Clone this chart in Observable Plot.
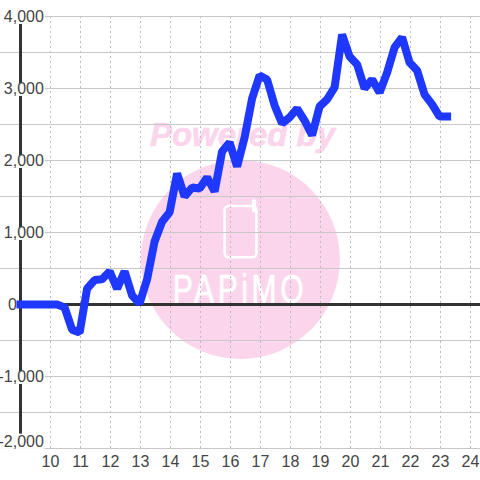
<!DOCTYPE html>
<html><head><meta charset="utf-8">
<style>
html,body{margin:0;padding:0;background:#fff}
svg{display:block}
</style>
<script src="https://cdn.jsdelivr.net/npm/d3@7"></script>
<script src="https://cdn.jsdelivr.net/npm/@observablehq/plot@0.6"></script>
</head><body><div id="c"></div>
<script>
const hours = [9,10.22,10.47,10.72,10.97,11.22,11.47,11.72,11.97,12.22,12.47,12.72,12.97,13.22,13.47,13.72,13.97,14.22,14.47,14.72,14.97,15.22,15.47,15.72,15.97,16.22,16.47,16.72,16.97,17.22,17.47,17.72,17.97,18.22,18.47,18.72,18.97,19.22,19.47,19.72,19.97,20.22,20.47,20.72,20.97,21.22,21.47,21.72,21.97,22.22,22.47,22.72,22.97,23.22];
const values = [0,0,-40,-350,-390,220,340,350,460,220,460,125,15,350,875,1150,1280,1820,1500,1625,1610,1765,1570,2125,2250,1915,2320,2860,3180,3125,2765,2515,2600,2720,2555,2350,2750,2850,3015,3750,3445,3335,3000,3125,2945,3220,3570,3710,3360,3250,2915,2780,2610,2610];
const xTicks = [10,11,12,13,14,15,16,17,18,19,20,21,22,23,24];
const yMajor = [4000,3000,2000,1000,0,-1000,-2000];
const yGrid = [4000,3500,3000,2500,2000,1500,1000,500,-500,-1000,-1500,-2000];
const series = hours.map((h,i)=>({h,v:values[i]}));
const fmt = t=>d3.format(",")(t).replace("\u2212","-");
const FONT = '"Liberation Sans", Arial, sans-serif';
const INK = "#444";
const labelled = yMajor.filter(t=>t!==0);
const px = 1/0.072; // y units per pixel
const chart = Plot.plot({
  width:480,height:480,margin:0,
  x:{domain:[8.3333,24.3333],range:[0,480],axis:null},
  y:{domain:[4222.22,-2444.44],range:[0,480],axis:null},
  style:{background:"#fff",overflow:"visible"},
  marks:[
    Plot.dot([0],{x:()=>16.33,y:()=>625,r:99.5,fill:"#fbd5ec",stroke:"none"}),
    Plot.text(["Powered by"],{x:()=>16.4,y:()=>2345,text:d=>d,fontSize:33,fontWeight:"bold",fontStyle:"italic",fontFamily:FONT,fill:"#fbd5ec",stroke:"#fbd5ec",strokeWidth:0.6,textAnchor:"middle"}),
    Plot.rect([0],{x1:()=>15.82,x2:()=>16.88,y1:()=>650,y2:()=>1360,rx:4,fill:"none",stroke:"#fff",strokeWidth:2.5}),
    Plot.ruleX([16.78],{y1:()=>1430,y2:()=>1300,stroke:"#fff",strokeWidth:4,strokeLinecap:"round"}),
    Plot.text(["PAPiMO"],{x:()=>16.33,y:()=>208,text:d=>d,fontSize:30,fontFamily:FONT,fill:"#fff",stroke:"#fff",strokeWidth:0.5,textAnchor:"middle"}),
    Plot.ruleX(xTicks,{y1:()=>4000,y2:()=>-2000,stroke:"#bbb",strokeWidth:1,strokeDasharray:"2,3"}),
    Plot.ruleY(yGrid,{stroke:"#c8c8c8",strokeWidth:1}),
    Plot.ruleY([0],{x1:()=>8.95,x2:()=>24.3333,stroke:"#333",strokeWidth:3}),
    Plot.ruleX([9],{y1:()=>4000,y2:()=>-2000,stroke:"#333",strokeWidth:3}),
    Plot.rect(labelled,{x1:()=>8.3333,x2:()=>9.82,y1:t=>t===-2000?-2012:t-8*px,y2:t=>t===-2000?-1800:t+5*px,fill:"#fff"}),
    Plot.line(series,{x:"h",y:"v",stroke:"#1f38ff",strokeWidth:8,strokeLinecap:"square",strokeLinejoin:"bevel",curve:"linear"}),
    Plot.text(yMajor.filter(t=>t!==0&&t!==-2000),{x:()=>9.78,y:t=>t,text:t=>fmt(t),textAnchor:"end",fontSize:16,fontFamily:FONT,fill:INK}),
    Plot.text([-2000],{x:()=>9.78,y:t=>t,text:t=>fmt(t),dy:-7,textAnchor:"end",fontSize:16,fontFamily:FONT,fill:INK}),
    Plot.text([0],{x:()=>8.88,y:t=>t,text:t=>fmt(t),textAnchor:"end",fontSize:16,fontFamily:FONT,fill:INK}),
    Plot.text(xTicks,{x:t=>t,y:()=>-2190,text:t=>String(t),textAnchor:"middle",fontSize:16,fontFamily:FONT,fill:INK})
  ]
});
document.getElementById("c").appendChild(chart);
for (const t of chart.querySelectorAll("text")) {
  if (t.textContent === "PAPiMO") {
    t.style.letterSpacing = "3.6px";
    const g = t.parentNode;
    g.style.transformBox = "fill-box";
    g.style.transformOrigin = "center center";
    g.style.transform = "scaleY(1.38)";
  }
}
</script></body></html>
